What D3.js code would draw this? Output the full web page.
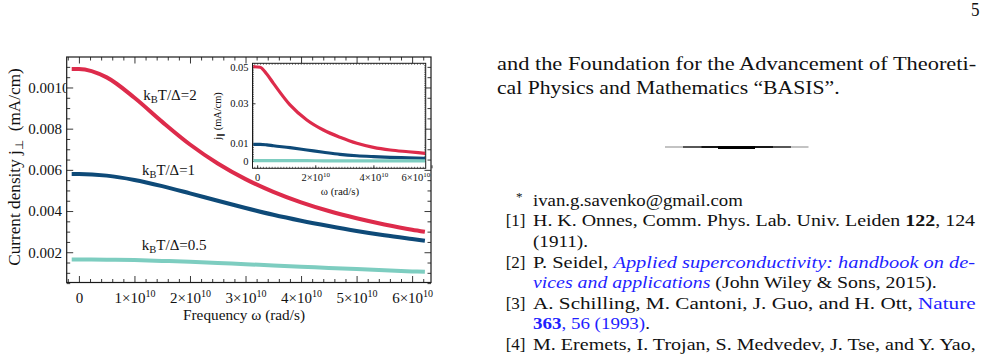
<!DOCTYPE html>
<html><head><meta charset="utf-8">
<script src="https://cdn.jsdelivr.net/npm/d3@7"></script>
<style>
body{margin:0;background:#fff}
svg{display:block}
svg text{font-family:"Liberation Serif","Times New Roman",serif;fill:#111}
</style>
</head><body>
<svg id="c" width="983" height="354" font-family="Liberation Serif, serif"></svg>
<script>
// ---------------- DATA ----------------
// main plot: frequency in units of 1e10 rad/s, current density j_perp (mA/cm)
const omega = [-0.13, 0, 0.5, 1, 1.5, 2, 2.5, 3, 3.5, 4, 4.5, 5, 5.5, 6, 6.23];
const jRed  = [0.01090, 0.01090, 0.01049, 0.00950, 0.00833, 0.00723, 0.00631, 0.00555, 0.00493, 0.00442, 0.00400, 0.00365, 0.00335, 0.00309, 0.00299];
const jBlue = [0.00580, 0.00580, 0.00572, 0.00551, 0.00521, 0.00486, 0.00450, 0.00415, 0.00382, 0.00353, 0.00327, 0.00303, 0.00282, 0.00264, 0.00256];
const jTeal = [0.00165, 0.00165, 0.00164, 0.00162, 0.00158, 0.00154, 0.00148, 0.00142, 0.00136, 0.00130, 0.00124, 0.00118, 0.00112, 0.00107, 0.00105];
const seriesLabels = ["2", "1", "0.5"];   // k_B T / Δ
const seriesColors = ["#dd2b4b", "#0e4a78", "#7dcdc0"];

const xTicks = [0, 1, 2, 3, 4, 5, 6];
const xTickLabels = ["0", "1×10|10", "2×10|10", "3×10|10", "4×10|10", "5×10|10", "6×10|10"];
const yTicks = [0.002, 0.004, 0.006, 0.008, 0.010];
const yTickLabels = ["0.002", "0.004", "0.006", "0.008", "0.0010"];

// inset: j_parallel (mA/cm)
const insetOmega = [-0.13, 0.1, 0.33, 0.56, 1.13, 1.71, 2.28, 2.85, 3.43, 4.0, 4.58, 5.2, 5.78];
const insetRed  = [0.0500, 0.0497, 0.0460, 0.0409, 0.0292, 0.0217, 0.0167, 0.0131, 0.0101, 0.0078, 0.0063, 0.0053, 0.0044];
const insetBlue = [0.0095, 0.0095, 0.0092, 0.0087, 0.0076, 0.0063, 0.0050, 0.0038, 0.0030, 0.0025, 0.0021, 0.0018, 0.0015];
const insetTeal = [0.0002, 0.0002, 0.0002, 0.0002, 0.0002, 0.0002, 0.0001, 0.0001, 0.0001, 0.0001, 0.0001, 0.0001, 0.0001];
const insetXTicks = [0, 2, 4, 6];
const insetXTickLabels = ["0", "2×10|10", "4×10|10", "6×10|10"];
const insetYTicks = [0, 0.01, 0.03, 0.05];
const insetYTickLabels = ["0", "0.01", "0.03", "0.05"];

// page text (right column)
const pageNumber = "5";
const bodyLines = [
  "and the Foundation for the Advancement of Theoreti-",
  "cal Physics and Mathematics \u201CBASIS\u201D."
];
const refMarks = ["*", "[1]", "", "[2]", "", "[3]", "", "[4]"];
const refLines = [
  [["ivan.g.savenko@gmail.com","n"]],
  [["H. K. Onnes, Comm. Phys. Lab. Univ. Leiden ","n"],["122","b"],[", 124","n"]],
  [["(1911).","n"]],
  [["P. Seidel, ","n"],["Applied superconductivity: handbook on de-","il"]],
  [["vices and applications","il"],[" (John Wiley & Sons, 2015).","n"]],
  [["A. Schilling, M. Cantoni, J. Guo, and H. Ott, ","n"],["Nature","l"]],
  [["363","bl"],[", 56 (1993)","l"],[".","n"]],
  [["M. Eremets, I. Trojan, S. Medvedev, J. Tse, and Y. Yao,","n"]]
];
const refWidths = [210, 443, 55, 443, 404, 443, 117, 443];

// ---------------- DRAW ----------------
const SERIF = "Liberation Serif";
const svg = d3.select("#c");
svg.append("rect").attr("width", 983).attr("height", 354).attr("fill", "#fff");

function fit(sel, x, y, w, rot) {
  const bb = sel.node().getBBox();
  const k = w / bb.width;
  sel.attr("transform", `translate(${x},${y})` + (rot ? ` rotate(${rot})` : "") + ` scale(${k},1)`);
}
function supLabel(textSel, s, supSize, dy) {
  const parts = s.split("|");
  textSel.text(null);
  textSel.append("tspan").text(parts[0]);
  if (parts[1]) textSel.append("tspan").attr("font-size", supSize).attr("dy", dy).text(parts[1]);
}
function txt(parent, size) {
  return parent.append("text").attr("font-family", SERIF).attr("font-size", size).attr("fill", "#111");
}

// ---- main plot ----
const M = {left: 66.7, right: 431, top: 57, bottom: 282.5};
const x = d3.scaleLinear().domain([-0.22, 6.34]).range([M.left, M.right]);
const y = d3.scaleLinear().domain([0.00053, 0.01148]).range([M.bottom, M.top]);

const main = svg.append("g");
main.append("clipPath").attr("id", "mclip").append("rect")
  .attr("x", M.left).attr("y", M.top).attr("width", M.right - M.left).attr("height", M.bottom - M.top);
// clip region for each y tick label, in the tick's own coordinates (tick origin sits on the frame)
main.append("clipPath").attr("id", "lclip").append("rect")
  .attr("x", -M.left).attr("y", -30).attr("width", M.left - 0.6).attr("height", 60);

const xMinor = d3.range(-2, 64, 2).map(d => d / 10).filter(d => !xTicks.includes(d));
const yMinor = d3.range(1, 23).map(d => d * 0.0005).filter(d => Math.abs((d / 0.002) - Math.round(d / 0.002)) > 1e-6);

function tickAxis(axisFn, scale, vals, size, tr) {
  const a = main.append("g").attr("transform", tr)
    .call(axisFn(scale).tickValues(vals).tickSize(size).tickFormat(""));
  a.select(".domain").remove();
  a.selectAll("line").attr("stroke", "#222").attr("stroke-width", 0.9);
  return a;
}
tickAxis(d3.axisBottom, x, xMinor, -3.5, `translate(0,${M.bottom})`);
tickAxis(d3.axisTop, x, xMinor, -3.5, `translate(0,${M.top})`);
tickAxis(d3.axisTop, x, xTicks, -6.5, `translate(0,${M.top})`);
tickAxis(d3.axisLeft, y, yMinor, -3.5, `translate(${M.left},0)`);
tickAxis(d3.axisRight, y, yMinor, -3.5, `translate(${M.right},0)`);
tickAxis(d3.axisRight, y, yTicks, -6.5, `translate(${M.right},0)`);

const xAx = main.append("g").attr("transform", `translate(0,${M.bottom})`)
  .call(d3.axisBottom(x).tickValues(xTicks).tickSize(-6.5).tickPadding(14)
    .tickFormat((d, i) => xTickLabels[i]));
xAx.select(".domain").remove();
xAx.selectAll("line").attr("stroke", "#222").attr("stroke-width", 0.9);
xAx.selectAll("text").attr("font-size", 15).attr("font-family", SERIF).attr("fill", "#111")
  .each(function(d, i) { supLabel(d3.select(this), xTickLabels[i], 10, -6); })
  .attr("dy", "0.71em").attr("y", 10);

const yAx = main.append("g").attr("transform", `translate(${M.left},0)`)
  .call(d3.axisLeft(y).tickValues(yTicks).tickSize(-6.5).tickPadding(4)
    .tickFormat((d, i) => yTickLabels[i]));
yAx.select(".domain").remove();
yAx.selectAll("line").attr("stroke", "#222").attr("stroke-width", 0.9);
yAx.selectAll("text").attr("font-size", 15).attr("font-family", SERIF).attr("fill", "#111")
  .attr("text-anchor", "start").attr("x", 28.3 - M.left)
  .attr("clip-path", "url(#lclip)");

main.append("rect").attr("x", M.left).attr("y", M.top).attr("width", M.right - M.left).attr("height", M.bottom - M.top)
  .attr("fill", "none").attr("stroke", "#1a1a1a").attr("stroke-width", 1.2);

const line = (xs, ys, sx, sy) => d3.line().curve(d3.curveMonotoneX).x((d, i) => sx(xs[i])).y(d => sy(d))(ys);
const mainSeries = [jRed, jBlue, jTeal];
mainSeries.forEach((s, k) => {
  main.append("path").attr("d", line(omega, s, x, y)).attr("fill", "none")
    .attr("stroke", seriesColors[k]).attr("stroke-width", 4).attr("clip-path", "url(#mclip)");
});

// curve annotations
const annPos = [[143.3, 99.5, 53.4], [142, 174.5, 53], [141.7, 249.5, 65]];
seriesLabels.forEach((lab, k) => {
  const t = txt(main, 15);
  t.append("tspan").text("k");
  t.append("tspan").attr("font-size", 10.5).attr("dy", 3).text("B");
  t.append("tspan").attr("dy", -3).text("T/\u0394=" + lab);
  fit(t, annPos[k][0], annPos[k][1], annPos[k][2]);
});

// axis titles
const yt = txt(main, 16).attr("text-anchor", "middle");
yt.append("tspan").text("Current density j");
yt.append("tspan").attr("font-size", 11).attr("dy", 3).text("\u22A5");
yt.append("tspan").attr("dy", -3).text("\u00A0\u00A0(mA/cm)");
fit(yt, 20, 167, 198, -90);
const xt = txt(main, 15.5).attr("text-anchor", "middle").text("Frequency \u03C9 (rad/s)");
fit(xt, 244, 320, 122);

// ---- inset ----
const I = {left: 252.5, right: 425.7, top: 63.3, bottom: 168.3};
const ix = d3.scaleLinear().domain([-0.16, 5.8]).range([I.left, I.right]);
const iy = d3.scaleLinear().domain([-0.0004, 0, 0.01, 0.03, 0.05, 0.0519]).range([I.bottom, 161, 143.5, 103.3, 66.7, I.top]);
const ins = svg.append("g");
ins.append("rect").attr("x", I.left).attr("y", I.top).attr("width", I.right - I.left).attr("height", I.bottom - I.top).attr("fill", "#fff");
ins.append("clipPath").attr("id", "iclip").append("rect")
  .attr("x", I.left).attr("y", I.top).attr("width", I.right - I.left).attr("height", I.bottom - I.top);

const ixMinor = d3.range(-1, 58, 1).map(d => d / 10);
const iyMinor = d3.range(0, 52, 1).map(d => d / 1000);
function iTick(axisFn, scale, vals, size, tr) {
  const a = ins.append("g").attr("transform", tr)
    .call(axisFn(scale).tickValues(vals).tickSize(size).tickFormat(""));
  a.select(".domain").remove();
  a.selectAll("line").attr("stroke", "#333").attr("stroke-width", 0.7);
  return a;
}
iTick(d3.axisBottom, ix, ixMinor, -1.5, `translate(0,${I.bottom})`);
iTick(d3.axisTop, ix, ixMinor, -1.5, `translate(0,${I.top})`);
iTick(d3.axisLeft, iy, iyMinor, -1.5, `translate(${I.left},0)`);
iTick(d3.axisRight, iy, iyMinor, -1.5, `translate(${I.right},0)`);

const ixAx = ins.append("g").attr("transform", `translate(0,${I.bottom})`)
  .call(d3.axisBottom(ix).tickValues(insetXTicks).tickSize(-3).tickPadding(5)
    .tickFormat((d, i) => insetXTickLabels[i]));
ixAx.select(".domain").remove();
ixAx.selectAll("line").attr("stroke", "#333");
ixAx.selectAll("text").attr("font-size", 10.5).attr("font-family", SERIF).attr("fill", "#111")
  .each(function(d, i) { supLabel(d3.select(this), insetXTickLabels[i], 7, -4); });
// keep last label inside the inset's picture area
ixAx.selectAll(".tick").each(function(d) {
  const t = d3.select(this).select("text");
  const bb = t.node().getBBox();
  const tx = ix(d);
  const over = tx + bb.x + bb.width - (I.right + 4.5);
  if (over > 0) t.attr("x", -over);
});

const iyAx = ins.append("g").attr("transform", `translate(${I.left},0)`)
  .call(d3.axisLeft(iy).tickValues(insetYTicks).tickSize(-3).tickPadding(4)
    .tickFormat((d, i) => insetYTickLabels[i]));
iyAx.select(".domain").remove();
iyAx.selectAll("line").attr("stroke", "#333");
iyAx.selectAll("text").attr("font-size", 10.5).attr("font-family", SERIF).attr("fill", "#111");

ins.append("rect").attr("x", I.left).attr("y", I.top).attr("width", I.right - I.left).attr("height", I.bottom - I.top)
  .attr("fill", "none").attr("stroke", "#1a1a1a").attr("stroke-width", 1);

[insetRed, insetBlue, insetTeal].forEach((s, k) => {
  ins.append("path").attr("d", line(insetOmega, s, ix, iy)).attr("fill", "none")
    .attr("stroke", seriesColors[k]).attr("stroke-width", 3.2).attr("clip-path", "url(#iclip)");
});

const iyt = txt(ins, 10.5).attr("text-anchor", "middle");
iyt.append("tspan").text("j");
iyt.append("tspan").attr("font-size", 7.5).attr("dy", 2).text("\u2225");
iyt.append("tspan").attr("dy", -2).text(" (mA/cm)");
fit(iyt, 221, 116, 49, -90);
const ixt = txt(ins, 10.5).attr("text-anchor", "middle").text("\u03C9 (rad/s)");
fit(ixt, 340, 195, 39);

// ---------------- PAGE TEXT ----------------
const page = svg.append("g");
const pn = txt(page, 19).text(pageNumber);
fit(pn, 971, 16, 8.5);

const bodyWidths = [479.5, 343];
bodyLines.forEach((s, i) => {
  const t = txt(page, 19).text(s);
  fit(t, 497, 69.5 + i * 24, bodyWidths[i]);
});

// end-of-text rule
const rule = page.append("g");
rule.append("line").attr("x1", 665).attr("x2", 808.5).attr("y1", 147).attr("y2", 147).attr("stroke", "#888").attr("stroke-width", 1.2);
rule.append("line").attr("x1", 683).attr("x2", 791).attr("y1", 147).attr("y2", 147).attr("stroke", "#333").attr("stroke-width", 1.3);
rule.append("line").attr("x1", 701.5).attr("x2", 773).attr("y1", 147).attr("y2", 147).attr("stroke", "#000").attr("stroke-width", 1.5);
rule.append("line").attr("x1", 718).attr("x2", 755).attr("y1", 147.6).attr("y2", 147.6).attr("stroke", "#000").attr("stroke-width", 2.6);

const styles = {
  n: {fill: "#111", weight: "normal", style: "normal"},
  b: {fill: "#111", weight: "bold", style: "normal"},
  il: {fill: "#1f1fff", weight: "normal", style: "italic"},
  l: {fill: "#1f1fff", weight: "normal", style: "normal"},
  bl: {fill: "#1f1fff", weight: "bold", style: "normal"}
};
refLines.forEach((segs, i) => {
  const yb = 205.8 + i * 20.6;
  if (refMarks[i]) {
    const star = refMarks[i] === "*";
    txt(page, star ? 13 : 17).attr("text-anchor", "end")
      .attr("x", star ? 522.5 : 525.5).attr("y", star ? yb - 5 : yb).text(refMarks[i]);
  }
  const t = txt(page, 17);
  segs.forEach(([s, st]) => {
    t.append("tspan").text(s).attr("fill", styles[st].fill).attr("font-family", SERIF)
      .attr("font-weight", styles[st].weight).attr("font-style", styles[st].style);
  });
  fit(t, 533, yb, refWidths[i]);
});
</script>
</body></html>
